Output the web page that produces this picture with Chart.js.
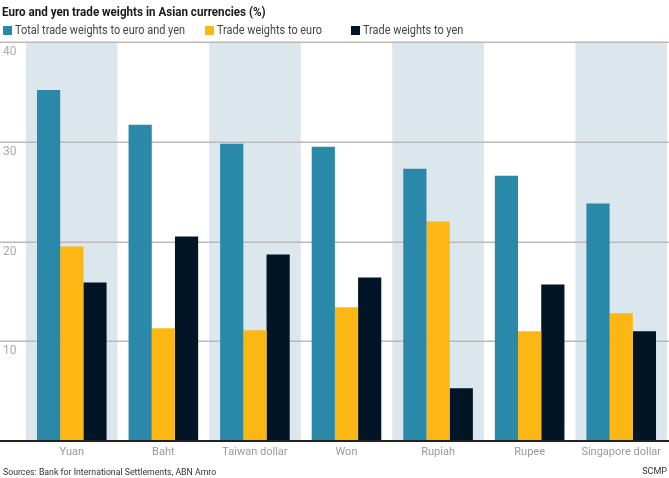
<!DOCTYPE html>
<html>
<head>
<meta charset="utf-8">
<script src="https://cdn.jsdelivr.net/npm/chart.js@4"></script>
<style>
  html, body { margin: 0; padding: 0; background: #fff; }
  #wrap { position: relative; width: 669px; height: 478px; overflow: hidden;
          font-family: "Roboto", "Liberation Sans", sans-serif; }
  #c { position: absolute; left: 0; top: 0; }
  #title { position: absolute; left: 2px; top: 4px; font-size: 12.5px; font-weight: bold; color: #1a1a1a; white-space: nowrap;
           transform: scaleX(0.93); transform-origin: 0 50%; }
  #legend { position: absolute; left: 0; top: 23px; height: 14px; font-size: 12px; color: #444; white-space: nowrap; }
  .li { position: absolute; top: 0; line-height: 14px; }
  .sw { position: absolute; top: 3px; width: 9px; height: 9px; }
  .lt { position: absolute; left: 12px; top: 0; transform: scaleX(0.91); transform-origin: 0 50%; }
  #src { position: absolute; left: 3px; top: 466px; font-size: 9.5px; color: #333; white-space: nowrap;
         transform: scaleX(0.92); transform-origin: 0 50%; }
  #scmp { position: absolute; right: 2px; top: 466px; font-size: 9px; color: #333; }
</style>
</head>
<body>
<div id="wrap">
  <canvas id="c" width="669" height="478"></canvas>
  <div id="title">Euro and yen trade weights in Asian currencies (%)</div>
  <div id="legend"></div>
  <div id="src">Sources: Bank for International Settlements, ABN Amro</div>
  <div id="scmp">SCMP</div>
</div>
<script>
const categories = ["Yuan", "Baht", "Taiwan dollar", "Won", "Rupiah", "Rupee", "Singapore dollar"];
const totalWeights = [35.2, 31.7, 29.8, 29.5, 27.3, 26.6, 23.8];
const euroWeights = [19.5, 11.3, 11.1, 13.4, 22.0, 11.0, 12.8];
const yenWeights = [15.9, 20.5, 18.7, 16.4, 5.3, 15.7, 11.0];
const seriesNames = ["Total trade weights to euro and yen", "Trade weights to euro", "Trade weights to yen"];
const yTicks = [0, 10, 20, 30, 40];

const colors = ["#2a88a8", "#fdb714", "#021526"];
const legendX = [3, 205, 351];

const leg = document.getElementById('legend');
seriesNames.forEach((n, i) => {
  const d = document.createElement('div');
  d.className = 'li';
  d.style.left = legendX[i] + 'px';
  d.innerHTML = '<span class="sw" style="background:' + colors[i] + '"></span><span class="lt">' + n + '</span>';
  leg.appendChild(d);
});

const bgPlugin = {
  id: 'bg',
  beforeDatasetsDraw(chart) {
    const ctx = chart.ctx, a = chart.chartArea;
    const xs = chart.scales.x, ys = chart.scales.y;
    const w = (a.right - a.left) / categories.length;
    ctx.save();
    ctx.fillStyle = '#dce6ed';
    categories.forEach((c, i) => {
      if (i % 2 === 0) {
        const cx = xs.getPixelForValue(i);
        ctx.fillRect(cx - w / 2, a.top, w, a.bottom - a.top);
      }
    });
    ctx.strokeStyle = '#b9b9b9';
    ctx.lineWidth = 1.5;
    yTicks.forEach(v => {
      if (v === 0) return;
      const y = Math.round(ys.getPixelForValue(v)) + 0.25;
      ctx.beginPath();
      ctx.moveTo(0, y);
      ctx.lineTo(chart.width, y);
      ctx.stroke();
    });
    ctx.restore();
  },
  afterDatasetsDraw(chart) {
    const ctx = chart.ctx, ys = chart.scales.y;
    const y = ys.getPixelForValue(0);
    ctx.save();
    ctx.strokeStyle = '#222';
    ctx.lineWidth = 2;
    ctx.beginPath();
    ctx.moveTo(0, y);
    ctx.lineTo(chart.width, y);
    ctx.stroke();
    ctx.restore();
  }
};

const fontFam = '"Roboto", "Liberation Sans", sans-serif';

new Chart(document.getElementById('c'), {
  type: 'bar',
  data: {
    labels: categories,
    datasets: [
      { label: seriesNames[0], data: totalWeights, backgroundColor: colors[0] },
      { label: seriesNames[1], data: euroWeights, backgroundColor: colors[1] },
      { label: seriesNames[2], data: yenWeights, backgroundColor: colors[2] }
    ]
  },
  options: {
    responsive: false,
    animation: false,
    devicePixelRatio: 1,
    datasets: { bar: { categoryPercentage: 0.76, barPercentage: 1.0, borderWidth: 0 } },
    layout: { padding: { left: 3, right: 2, top: 42, bottom: 17 } },
    plugins: { legend: { display: false }, title: { display: false }, tooltip: { enabled: false } },
    scales: {
      x: {
        grid: { display: false, drawTicks: false },
        border: { display: false },
        ticks: { color: '#9a9a9a', font: { family: fontFam, size: 11 }, padding: 5, maxRotation: 0, autoSkip: false },
        afterFit(s) { s.height = 20; }
      },
      y: {
        min: 0, max: 40,
        afterBuildTicks(s) { s.ticks = yTicks.map(v => ({ value: v })); },
        grid: { display: false, drawTicks: false },
        border: { display: false },
        ticks: {
          color: '#aaaaaa', font: { family: fontFam, size: 12 }, padding: 0,
          crossAlign: 'far', labelOffset: 10,
          callback: v => v === 0 ? '' : String(v)
        },
        afterFit(s) { s.width = 23; }
      }
    }
  },
  plugins: [bgPlugin]
});
</script>
</body>
</html>
